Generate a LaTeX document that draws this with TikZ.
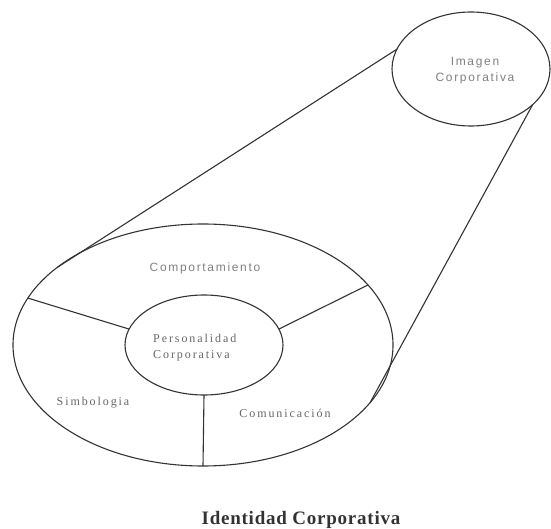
\documentclass[tikz,border=0pt]{standalone}
\usepackage{fontspec}
\setmainfont{Liberation Serif}
\newfontfamily\lsans[LetterSpace=14]{Liberation Sans}
\newfontfamily\lserif[LetterSpace=16]{Liberation Serif}
\newfontfamily\lbold[LetterSpace=4]{Liberation Serif}
\usetikzlibrary{shapes.geometric}
\begin{document}
\begin{tikzpicture}[x=1pt,y=-1pt,
  oval/.style={ellipse, draw=black!80, line width=1.1pt, inner sep=0pt, outer sep=0pt},
  conn/.style={draw=black!80, line width=1.1pt},
  sanslbl/.style={font=\lsans\fontsize{12}{16}\selectfont, text=black!50, align=center, inner sep=0pt},
  seriflbl/.style={font=\lserif\fontsize{12}{16}\selectfont, text=black!60, inner sep=0pt},
  titlelbl/.style={font=\lbold\bfseries\fontsize{19}{22}\selectfont, text=black!80, inner sep=0pt}]
\useasboundingbox (0,0) rectangle (551,529);
\node[oval, minimum width=380pt, minimum height=242pt] (big) at (203,345) {};
\node[oval, minimum width=158pt, minimum height=100pt] (inner) at (204,345) {};
\node[oval, minimum width=158pt, minimum height=114pt] (img) at (471,69) {};
\draw[conn] (img.165.8) -- (big.152.4);
\draw[conn] (img.-30.6) -- (big.-19.2);
\draw[conn] (big.165.2) -- (inner.168.7);
\draw[conn] (big.20.1) -- (inner.12.4);
\draw[conn] (inner.south) -- (big.south);
\node[sanslbl] (imgtxt) at (475,71) {Imagen\\Corporativa};
\node[sanslbl] (comp) at (205,268) {Comportamiento};
\node[seriflbl, align=left, anchor=west] (pers) at (153,348) {Personalidad\\Corporativa};
\node[seriflbl] (simb) at (93,403) {Simbologia};
\node[seriflbl] (comu) at (285,413) {Comunicación};
\node[titlelbl] (ident) at (301,520) {Identidad Corporativa};
\end{tikzpicture}
\end{document}
